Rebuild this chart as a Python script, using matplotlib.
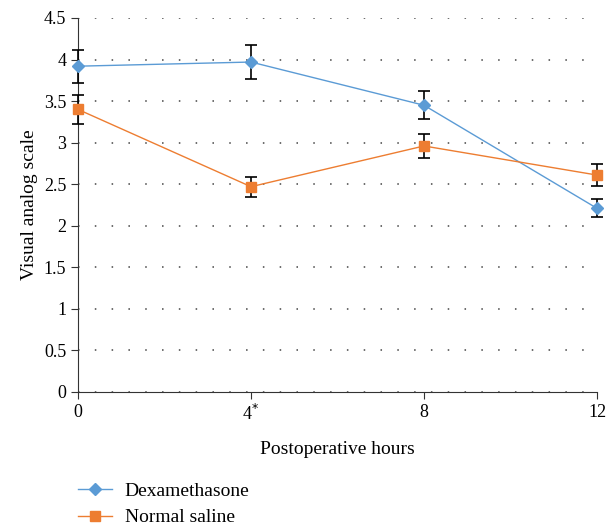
import matplotlib.pyplot as plt
from matplotlib.lines import Line2D

plt.rcParams['font.family'] = ['Liberation Serif', 'DejaVu Serif']

hours = [0, 4, 8, 12]
tick_labels = ['0', '4$^{*}$', '8', '12']
dex = [3.92, 3.97, 3.45, 2.21]
dex_err = [0.2, 0.2, 0.17, 0.11]
saline = [3.40, 2.47, 2.96, 2.61]
saline_err = [0.17, 0.12, 0.15, 0.13]

fig = plt.figure(figsize=(6.07, 5.26), dpi=100)
ax = fig.add_axes([0.1285, 0.2548, 0.855, 0.711])

blue = '#5b9bd5'
orange = '#ed7d31'

ax.errorbar(hours, dex, yerr=dex_err, color=blue, marker='D', markersize=6,
            linewidth=1, ecolor='black', elinewidth=1.2, capsize=4, capthick=1.2,
            clip_on=False, zorder=3)
ax.errorbar(hours, saline, yerr=saline_err, color=orange, marker='s', markersize=7,
            linewidth=1, ecolor='black', elinewidth=1.2, capsize=4, capthick=1.2,
            clip_on=False, zorder=3)

ax.set_xlim(0, 12)
ax.set_ylim(0, 4.5)
ax.set_xticks(hours)
ax.set_xticklabels(tick_labels, fontsize=13)
ax.set_yticks([0, 0.5, 1, 1.5, 2, 2.5, 3, 3.5, 4, 4.5])
ax.set_yticklabels(['0', '0.5', '1', '1.5', '2', '2.5', '3', '3.5', '4', '4.5'], fontsize=13)
ax.yaxis.grid(True, linestyle=(0, (1, 10)), color='#444444', linewidth=1.1)
ax.set_axisbelow(True)
for s in ['top', 'right']:
    ax.spines[s].set_visible(False)
ax.spines['left'].set_color('#333333')
ax.spines['bottom'].set_color('#333333')
ax.tick_params(length=5, color='#333333')
ax.set_xlabel('Postoperative hours', fontsize=14, labelpad=12)
ax.set_ylabel('Visual analog scale', fontsize=14)

handles = [Line2D([], [], color=blue, marker='D', markersize=6, linewidth=1),
           Line2D([], [], color=orange, marker='s', markersize=7, linewidth=1)]
fig.legend(handles, ['Dexamethasone', 'Normal saline'], loc='upper left',
           bbox_to_anchor=(0.1, 0.116), frameon=False, fontsize=14,
           handlelength=1.75, handletextpad=0.65, labelspacing=0.45)

fig.savefig('out.png', dpi=100)
